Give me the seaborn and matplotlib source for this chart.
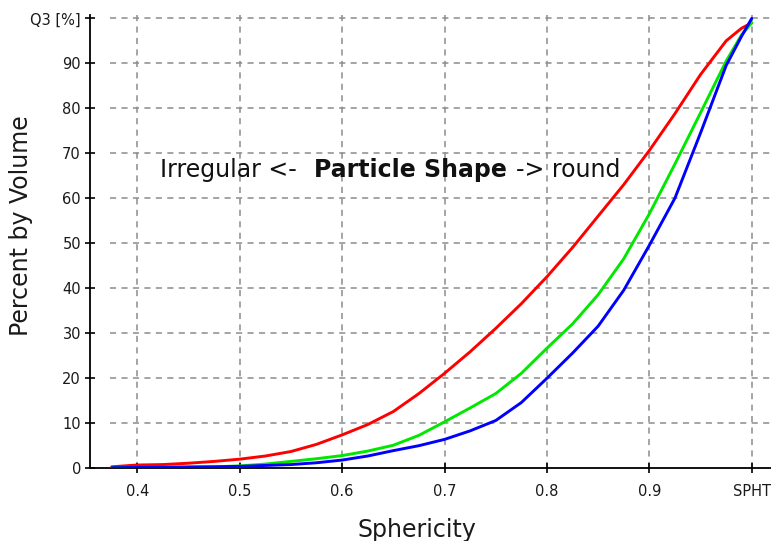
import numpy as np
import pandas as pd
import matplotlib
matplotlib.use("Agg")
import matplotlib.pyplot as plt
import seaborn as sns

# Sphericity grid and cumulative volume (Q3) curves
sphericity = [0.375, 0.4, 0.425, 0.45, 0.475, 0.5, 0.525, 0.55, 0.575, 0.6,
              0.625, 0.65, 0.675, 0.7, 0.725, 0.75, 0.775, 0.8, 0.825, 0.85,
              0.875, 0.9, 0.925, 0.95, 0.975, 0.99, 1.0]
q3_red = [0.2, 0.6, 0.7, 1.0, 1.4, 1.9, 2.6, 3.6, 5.2, 7.3,
          9.6, 12.5, 16.5, 21.0, 25.8, 31.0, 36.5, 42.5, 49.0, 56.0,
          63.0, 70.6, 78.8, 87.5, 95.0, 97.8, 99.0]
q3_green = [0.0, 0.05, 0.1, 0.15, 0.2, 0.4, 0.8, 1.4, 2.0, 2.7,
            3.7, 5.0, 7.2, 10.2, 13.3, 16.5, 21.0, 26.6, 32.0, 38.5,
            46.5, 56.5, 67.6, 79.0, 90.5, 96.3, 99.0]
q3_blue = [0.0, 0.05, 0.1, 0.15, 0.2, 0.3, 0.5, 0.7, 1.1, 1.7,
           2.6, 3.8, 4.9, 6.3, 8.2, 10.5, 14.5, 19.9, 25.5, 31.5,
           39.5, 49.5, 60.0, 74.5, 89.5, 96.0, 100.0]

x_ticks = [0.4, 0.5, 0.6, 0.7, 0.8, 0.9, 1.0]
x_tick_labels = ["0.4", "0.5", "0.6", "0.7", "0.8", "0.9", "SPHT"]
y_ticks = [0, 10, 20, 30, 40, 50, 60, 70, 80, 90, 100]
y_tick_labels = ["0", "10", "20", "30", "40", "50", "60", "70", "80", "90", "Q3 [%]"]

# long format for seaborn
df = pd.DataFrame({
    "Sphericity": sphericity * 3,
    "Q3": q3_red + q3_green + q3_blue,
    "sample": ["red"] * len(sphericity) + ["green"] * len(sphericity) + ["blue"] * len(sphericity),
})
palette = {"red": "#ff0000", "green": "#00e800", "blue": "#0000ff"}

sns.set_style("ticks")
plt.rcParams["font.family"] = ["DejaVu Sans"]

fig = plt.figure(figsize=(7.71, 5.41), dpi=100)
ax = fig.add_axes([90 / 771, 73.3 / 541, 681 / 771, 452.7 / 541])

ax.set_xlim(0.3538, 1.0188)
ax.set_ylim(0, 100.75)

# dashed grid
grid_kw = dict(color="#8c8c8c", linewidth=1.1, linestyle=(0, (4, 3.5)), zorder=0)
ax.vlines(x_ticks, 0, 100.75, **grid_kw)
ax.hlines(y_ticks[1:], 0.373, 1.0188, **grid_kw)

sns.lineplot(data=df, x="Sphericity", y="Q3", hue="sample", palette=palette,
             linewidth=2.1, legend=False, ax=ax, zorder=3)

ax.set_xticks(x_ticks)
ax.set_xticklabels(x_tick_labels)
ax.set_yticks(y_ticks)
ax.set_yticklabels(y_tick_labels)
ax.tick_params(axis="both", direction="inout", length=7, width=1.2,
               colors="black", labelcolor="#1a1a1a", labelsize=10.5)
ax.tick_params(axis="y", pad=3)
ax.tick_params(axis="x", pad=8)

for side in ["top", "right"]:
    ax.spines[side].set_visible(False)
for side in ["left", "bottom"]:
    ax.spines[side].set_color("black")
    ax.spines[side].set_linewidth(1.3)

ax.set_xlabel("Sphericity", fontsize=17, color="#1a1a1a", va="baseline")
ax.xaxis.set_label_coords(0.480, -0.153)
ax.set_ylabel("Percent by Volume", fontsize=17, color="#1a1a1a", va="center")
ax.yaxis.set_label_coords(-0.101, 0.534)

# shape annotation
ax.text(0.422, 64.6, "Irregular <-", fontsize=17, color="#111111", va="baseline")
ax.text(0.573, 64.6, "Particle Shape", fontsize=17, fontweight="bold", color="#111111", va="baseline")
ax.text(0.770, 64.6, "-> round", fontsize=17, color="#111111", va="baseline")

fig.savefig("out.png", dpi=100)
